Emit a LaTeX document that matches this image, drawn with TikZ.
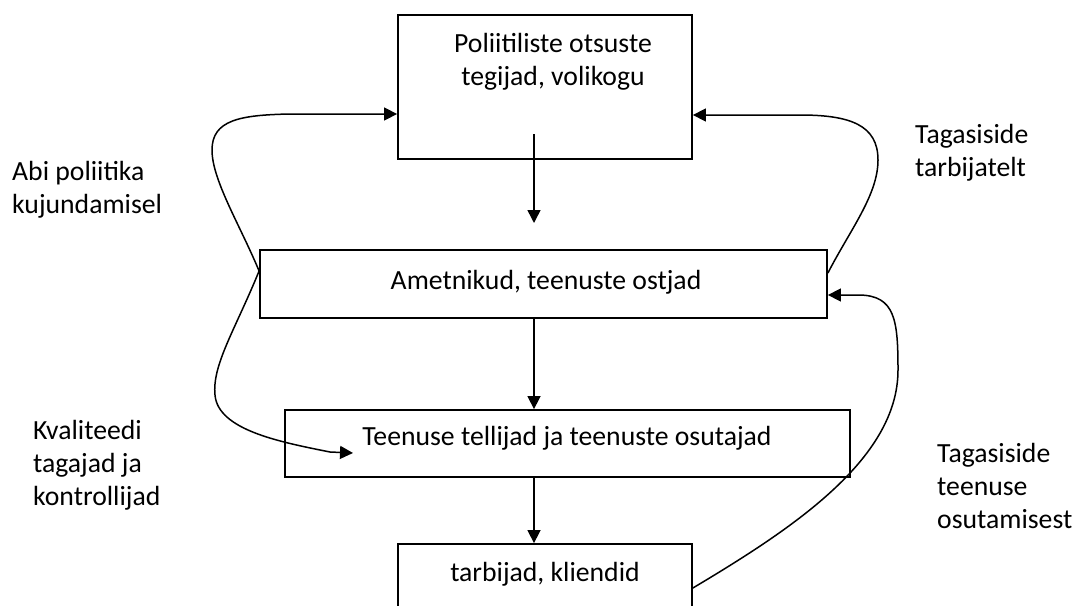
\documentclass[tikz,border=0pt]{standalone}
\usepackage{fontspec}
\setmainfont{Carlito}
\usetikzlibrary{arrows.meta,calc}
\begin{document}
\begin{tikzpicture}[x=1pt,y=-1pt,
  box/.style={draw=black,line width=1.8pt,inner sep=0pt,fill=none},
  txt/.style={inner sep=0pt,font=\fontsize{27.7}{33}\selectfont},
  conn/.style={draw=black,line width=1.5pt,-{Triangle[length=13pt,width=13pt]}},
  lbl/.style={inner sep=0pt,align=left,font=\fontsize{27.7}{33}\selectfont}]
\useasboundingbox (0,0) rectangle (1073,605);
\clip (0,0) rectangle (1073,605);
\fill[white] (0,0) rectangle (1073,605);
% boxes
\node[box,minimum width=294pt,minimum height=144pt] (top) at (545,87) {};
\node[box,minimum width=567pt,minimum height=68pt] (mid) at (543.5,284) {};
\node[box,minimum width=565pt,minimum height=67pt] (third) at (567.5,443.5) {};
\node[box,minimum width=294pt,minimum height=90pt] (bot) at (545,589) {};
% box texts
\node[txt,align=center,anchor=center] (ttop) at (553,62) {Poliitiliste otsuste\\tegijad, volikogu};
\node[txt,anchor=base] (tmid) at (546,289) {Ametnikud, teenuste ostjad};
\node[txt,anchor=base] (tthird) at (567,445) {Teenuse tellijad ja teenuste osutajad};
\node[txt,anchor=base] (tbot) at (545,581) {tarbijad, kliendid};
% labels
\node[lbl,anchor=west] (labi) at (12,190) {Abi poliitika\\kujundamisel};
\node[lbl,anchor=west] (ltarb) at (915,153) {Tagasiside\\tarbijatelt};
\node[lbl,anchor=west] (lkval) at (33,465) {Kvaliteedi\\tagajad ja\\kontrollijad};
\node[lbl,anchor=west] (lteen) at (937,486) {Tagasiside\\teenuse\\osutamisest};
% straight arrows
\coordinate (a1s) at (534,134);
\coordinate (a1e) at (534,223);
\draw[conn] (a1s) -- (a1e);
\draw[conn] (mid.south -| a1s) -- (third.north -| a1s);
\draw[conn] (third.south -| a1s) -- (bot.north -| a1s);
% curved arrows
\draw[conn] ([yshift=13pt]mid.west) .. controls (240,225) and (212,180) .. (212,150)
  .. controls (212,120) and (240,115) .. (290,114) -- ([yshift=-27pt]top.west);
\coordinate (l2e) at (353,453);
\draw[conn] ([yshift=13pt]mid.west) .. controls (235,330) and (212,365) .. (215,395)
  .. controls (218,430) and (280,442) .. (330,452) -- (l2e);
\draw[conn] ([yshift=11pt]mid.east) .. controls (850,230) and (878,195) .. (878,160)
  .. controls (878,125) and (850,115) .. (800,115) -- ([yshift=-28pt]top.east);
\draw[conn] ([yshift=1pt]bot.east) .. controls (790,530) and (898,460) .. (898,370)
  .. controls (898,320) and (895,296) .. (860,295) -- ([yshift=-11pt]mid.east);
\end{tikzpicture}
\end{document}
